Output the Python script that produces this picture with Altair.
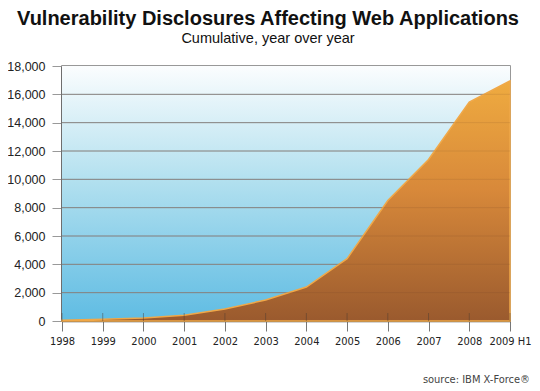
import altair as alt
import pandas as pd

years = [1998, 1999, 2000, 2001, 2002, 2003, 2004, 2005, 2006, 2007, 2008, 2009]
values = [50, 120, 220, 400, 850, 1480, 2400, 4400, 8500, 11400, 15450, 16950]
y_ticks = [0, 2000, 4000, 6000, 8000, 10000, 12000, 14000, 16000, 18000]
grid_values = [2000, 4000, 6000, 8000, 10000, 12000, 14000, 16000]

df = pd.DataFrame({"year": years, "value": values})
grid_df = pd.DataFrame({"value": grid_values})

W, H = 448, 255

x_scale = alt.Scale(domain=[1998, 2009], nice=False, zero=False)
y_scale = alt.Scale(domain=[0, 18000], nice=False)

y_axis = alt.Axis(values=y_ticks, title=None, format=",d", grid=False,
                  tickSize=10, tickColor="#999", labelPadding=7,
                  labelFontSize=12.5, labelColor="#222",
                  labelFont="Liberation Sans",
                  domain=True, domainColor="#444", domainWidth=2)

bg = alt.Chart(pd.DataFrame({"a": [0]})).mark_rect(
    color=alt.Gradient(
        gradient="linear", x1=0, y1=0, x2=0, y2=1,
        stops=[
            alt.GradientStop(color="#fbfdfe", offset=0),
            alt.GradientStop(color="#b2e0ef", offset=0.45),
            alt.GradientStop(color="#5fbce3", offset=1),
        ],
    ),
).encode(x=alt.value(0), x2=alt.value(W), y=alt.value(0), y2=alt.value(H))

grid = alt.Chart(grid_df).mark_rule(color="#8c8c8c", strokeWidth=1).encode(
    y=alt.Y("value:Q", scale=y_scale, axis=y_axis),
    x=alt.value(0), x2=alt.value(W),
)

grid_over = alt.Chart(grid_df).mark_rule(color="#5a3a20", strokeWidth=1, opacity=0.12).encode(
    y=alt.Y("value:Q", scale=y_scale, axis=y_axis),
    x=alt.value(0), x2=alt.value(W),
)

base = alt.Chart(df)

area = base.mark_area(
    stroke="#f0a848",
    strokeWidth=1.5,
    color=alt.Gradient(
        gradient="linear",
        x1=0, y1=0, x2=0, y2=1,
        stops=[
            alt.GradientStop(color="#efab40", offset=0),
            alt.GradientStop(color="#d8893a", offset=0.45),
            alt.GradientStop(color="#9a5a2e", offset=1),
        ],
    ),
).encode(
    x=alt.X("year:Q", scale=x_scale,
            axis=alt.Axis(values=years, title=None, grid=False, tickSize=10,
                          tickColor="#777", tickWidth=1, labelPadding=4,
                          labelFontSize=11, labelColor="#222",
                          labelFont="DejaVu Sans Condensed",
                          labelExpr="datum.value == 2009 ? '2009 H1' : datum.value",
                          domain=True, domainColor="#555", domainWidth=1.5,
                          labelFlush=False)),
    y=alt.Y("value:Q", scale=y_scale, axis=y_axis),
)

inner_ticks = base.mark_rule(color="#4a3a30", opacity=0.45, strokeWidth=1).encode(
    x=alt.X("year:Q", scale=x_scale),
    y=alt.value(H),
    y2=alt.value(H - 8),
)

source = alt.Chart(pd.DataFrame({"t": ["source: IBM X-Force®"]})).mark_text(
    align="right", baseline="alphabetic", fontSize=11,
    font="DejaVu Sans Condensed", color="#444",
).encode(text="t:N", x=alt.value(468), y=alt.value(317))

chart = alt.layer(bg, grid, area, grid_over, inner_ticks, source).properties(
    width=W, height=H,
    autosize=alt.AutoSizeParams(type="none"),
    padding={"left": 54, "top": 58, "right": 22, "bottom": 68},
    title=alt.Title(
        "Vulnerability Disclosures Affecting Web Applications",
        subtitle="Cumulative, year over year",
        anchor="middle", dx=-18, offset=15,
        fontSize=20, font="Liberation Sans", fontWeight="bold", color="#111",
        subtitleFontSize=14.5, subtitleFont="Liberation Sans", subtitleColor="#111",
        subtitlePadding=3,
    ),
).configure_view(stroke="#777", strokeWidth=1.5)

chart.save("out.html", embed_options={"renderer": "svg", "actions": False})
